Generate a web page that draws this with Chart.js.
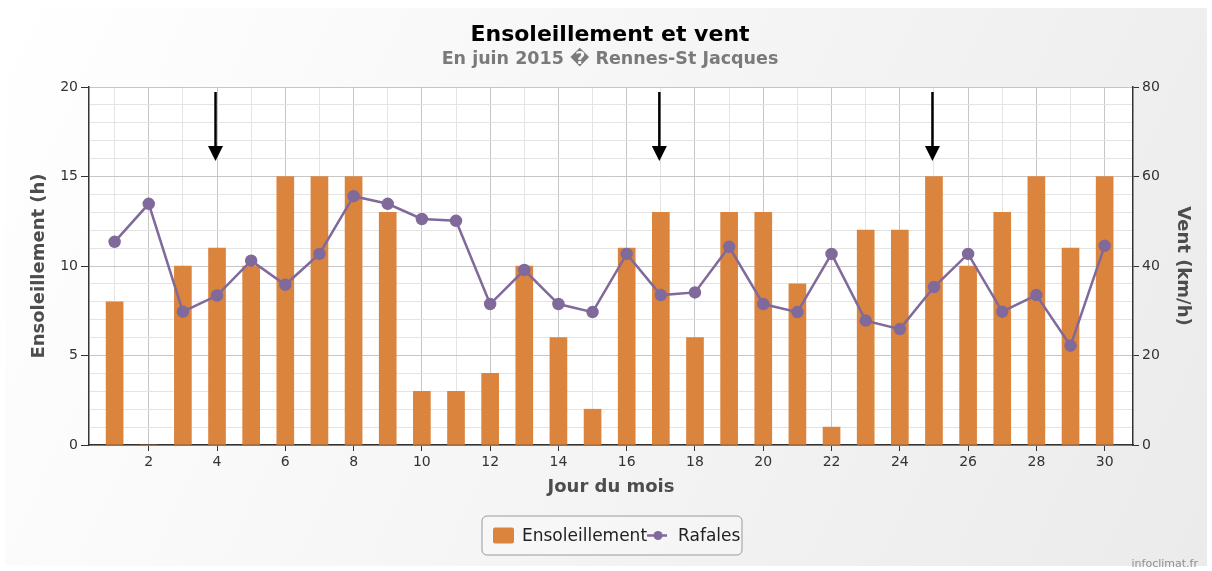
<!DOCTYPE html>
<html>
<head>
<meta charset="utf-8">
<script src="https://cdn.jsdelivr.net/npm/chart.js@4"></script>
<style>
  html, body { margin: 0; padding: 0; background: #fff; }
  #wrap { width: 1212px; height: 571px; }
</style>
</head>
<body>
<div id="wrap"><canvas id="chart" width="1212" height="571"></canvas></div>
<script>
// données juin 2015 - Rennes-St Jacques
const days = [1, 2, 3, 4, 5, 6, 7, 8, 9, 10, 11, 12, 13, 14, 15, 16, 17, 18, 19, 20, 21, 22, 23, 24, 25, 26, 27, 28, 29, 30];
const sunHours = [8, 0, 10, 11, 10, 15, 15, 15, 13, 3, 3, 4, 10, 6, 2, 11, 13, 6, 13, 13, 9, 1, 12, 12, 15, 10, 13, 15, 11, 15];
const gusts = [45.4, 53.9, 29.8, 33.4, 41.2, 35.8, 42.7, 55.6, 53.9, 50.5, 50.1, 31.5, 39.1, 31.5, 29.7, 42.7, 33.5, 34.1, 44.3, 31.5, 29.7, 42.7, 27.8, 25.9, 35.3, 42.7, 29.8, 33.5, 22.2, 44.5];
const arrowDays = [4, 17, 25];
const sunGrid = [0, 1, 2, 3, 4, 5, 6, 7, 8, 9, 10, 11, 12, 13, 14, 15, 16, 17, 18, 19, 20];
const sunTicks = [0, 5, 10, 15, 20];
const windTicks = [0, 20, 40, 60, 80];

const ORANGE = '#DB843D';
const PURPLE = '#80699B';
const FONT = "'DejaVu Sans', sans-serif";

const bgPlugin = {
  id: 'bg',
  beforeDraw(chart) {
    const { ctx, chartArea: a } = chart;
    ctx.save();
    ctx.fillStyle = '#fff';
    ctx.fillRect(0, 0, chart.width, chart.height);
    const g = ctx.createLinearGradient(5, 8, 1207, 566);
    g.addColorStop(0, '#ffffff');
    g.addColorStop(1, '#ebebeb');
    ctx.fillStyle = g;
    ctx.fillRect(5, 8, chart.width - 10, chart.height - 13);
    ctx.fillStyle = '#fff';
    ctx.fillRect(a.left, a.top, a.right - a.left, a.bottom - a.top);
    ctx.restore();
  }
};

// flèches noires au dessus de certains jours
const arrowPlugin = {
  id: 'arrows',
  afterDatasetsDraw(chart) {
    const { ctx, chartArea: a, scales } = chart;
    ctx.save();
    ctx.strokeStyle = '#000';
    ctx.fillStyle = '#000';
    ctx.lineWidth = 2.5;
    arrowDays.forEach(d => {
      const x = scales.x.getPixelForValue(d) - 1.5;
      const y0 = a.top + 5, y1 = a.top + 60, tip = a.top + 74;
      ctx.beginPath();
      ctx.moveTo(x, y0);
      ctx.lineTo(x, y1);
      ctx.stroke();
      ctx.beginPath();
      ctx.moveTo(x - 7.5, y1 - 1);
      ctx.lineTo(x + 7.5, y1 - 1);
      ctx.lineTo(x, tip);
      ctx.closePath();
      ctx.fill();
    });
    ctx.restore();
  }
};

// titre, sous-titre, légende encadrée, crédit
const textPlugin = {
  id: 'texts',
  afterDraw(chart) {
    const { ctx } = chart;
    ctx.save();
    ctx.textAlign = 'center';
    ctx.textBaseline = 'middle';
    ctx.fillStyle = '#000';
    ctx.font = `bold 22px ${FONT}`;
    ctx.fillText('Ensoleillement et vent', 610, 35);
    ctx.fillStyle = '#7a7a7a';
    ctx.font = `bold 17.5px ${FONT}`;
    ctx.fillText('En juin 2015 \uFFFD Rennes-St Jacques', 610, 59);

    // légende
    const bx = 482, by = 516, bw = 260, bh = 39;
    ctx.beginPath();
    ctx.roundRect(bx, by, bw, bh, 5);
    ctx.fillStyle = 'rgba(255,255,255,0.25)';
    ctx.fill();
    ctx.strokeStyle = '#9a9a9a';
    ctx.lineWidth = 1;
    ctx.stroke();
    const ds = chart.data.datasets;
    const cy = by + bh / 2;
    ctx.fillStyle = ORANGE;
    ctx.beginPath();
    ctx.roundRect(493, cy - 8, 21, 16, 2);
    ctx.fill();
    ctx.fillStyle = '#222';
    ctx.font = `17px ${FONT}`;
    ctx.textAlign = 'left';
    ctx.fillText(ds[1].label, 522, cy + 1);
    const w = ctx.measureText(ds[1].label).width;
    const lx = 522 + w;
    ctx.strokeStyle = PURPLE;
    ctx.lineWidth = 2.5;
    ctx.beginPath();
    ctx.moveTo(lx, cy);
    ctx.lineTo(lx + 20, cy);
    ctx.stroke();
    ctx.fillStyle = PURPLE;
    ctx.beginPath();
    ctx.arc(lx + 11, cy, 4.5, 0, Math.PI * 2);
    ctx.fill();
    ctx.fillStyle = '#222';
    ctx.fillText(ds[0].label, lx + 31, cy + 1);

    ctx.textAlign = 'right';
    ctx.fillStyle = '#909090';
    ctx.font = `11px ${FONT}`;
    ctx.fillText('infoclimat.fr', 1198, 564);
    ctx.restore();
  }
};

const axisTitle = (text, pad) => ({
  display: true,
  text,
  color: '#4d4d4d',
  font: { family: FONT, size: 18, weight: 'bold' },
  padding: pad
});

new Chart(document.getElementById('chart'), {
  type: 'bar',
  data: {
    datasets: [
      {
        type: 'line',
        label: 'Rafales',
        data: days.map((d, i) => ({ x: d, y: gusts[i] })),
        yAxisID: 'y1',
        borderColor: PURPLE,
        backgroundColor: PURPLE,
        borderWidth: 2.5,
        pointRadius: 5,
        pointHoverRadius: 5,
        tension: 0,
        order: 1
      },
      {
        type: 'bar',
        label: 'Ensoleillement',
        data: days.map((d, i) => ({ x: d, y: sunHours[i] })),
        yAxisID: 'y',
        backgroundColor: ORANGE,
        barThickness: 17,
        order: 2
      }
    ]
  },
  options: {
    responsive: false,
    animation: false,
    layout: { padding: { top: 87, left: 0, right: 0, bottom: 0 } },
    plugins: {
      legend: { display: false },
      title: { display: false },
      tooltip: { enabled: false }
    },
    scales: {
      x: {
        type: 'linear',
        offset: false,
        min: 0.25,
        max: 30.83,
        afterBuildTicks: s => { s.ticks = days.map(v => ({ value: v })); },
        afterFit: s => { s.height = 126; },
        ticks: {
          autoSkip: false,
          maxRotation: 0,
          padding: 3,
          color: '#333',
          font: { family: FONT, size: 14 },
          callback: v => (v % 2 === 0 ? v : '')
        },
        grid: {
          offset: false,
          color: c => (c.tick && c.tick.value % 2 === 0 ? '#c6c6c6' : '#e4e4e4'),
          tickColor: c => (c.tick && c.tick.value % 2 === 0 ? '#333' : 'rgba(0,0,0,0)'),
          tickLength: 6
        },
        border: { color: '#333', width: 1.5 },
        title: axisTitle('Jour du mois', { top: 0, bottom: 73 })
      },
      y: {
        position: 'left',
        min: 0,
        max: 20,
        afterFit: s => { s.width = 89; },
        afterBuildTicks: s => { s.ticks = sunGrid.map(v => ({ value: v })); },
        ticks: {
          autoSkip: false,
          padding: 3,
          color: '#333',
          font: { family: FONT, size: 14 },
          callback: v => (sunTicks.includes(v) ? v : '')
        },
        grid: {
          color: c => (c.tick && sunTicks.includes(c.tick.value) ? '#c6c6c6' : '#e4e4e4'),
          tickColor: c => (c.tick && sunTicks.includes(c.tick.value) ? '#333' : 'rgba(0,0,0,0)'),
          tickLength: 8
        },
        border: { color: '#333', width: 1.5 },
        title: axisTitle('Ensoleillement (h)', { top: 29, bottom: 0 })
      },
      y1: {
        position: 'right',
        min: 0,
        max: 80,
        afterFit: s => { s.width = 79; },
        afterBuildTicks: s => { s.ticks = windTicks.map(v => ({ value: v })); },
        ticks: {
          autoSkip: false,
          padding: 3,
          color: '#333',
          font: { family: FONT, size: 14 }
        },
        grid: { drawOnChartArea: false, tickColor: '#333', tickLength: 6 },
        border: { color: '#333', width: 1.5 },
        title: axisTitle('Vent (km/h)', { top: 19, bottom: 0 })
      }
    }
  },
  plugins: [bgPlugin, arrowPlugin, textPlugin]
});
</script>
</body>
</html>
